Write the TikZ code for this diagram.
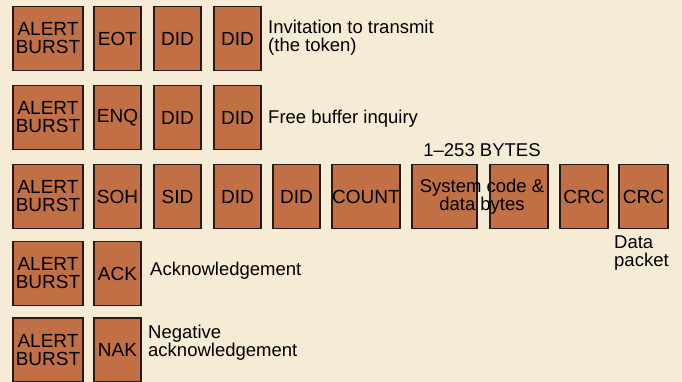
\documentclass[tikz,border=0pt]{standalone}
\usepackage{fontspec}
\setmainfont{Liberation Sans}
\definecolor{paper}{RGB}{246,236,214}
\definecolor{field}{RGB}{192,112,68}
\definecolor{rim}{RGB}{38,26,22}
\begin{document}
\begin{tikzpicture}[x=1pt,y=-1pt,
  fieldbox/.style={draw=rim,fill=field,line width=1.6pt,inner sep=0pt,outer sep=0pt,
    minimum height=64pt,font=\fontsize{19}{18}\selectfont,align=center},
  alert/.style={fieldbox,minimum width=70pt},
  narrow/.style={fieldbox,minimum width=47pt},
  note/.style={inner sep=0pt,anchor=west,align=left,font=\fontsize{18.5}{18}\selectfont}]
% paper
\fill[paper] (0,0) rectangle (682,382);
\useasboundingbox (0,0) rectangle (682,382);

% row 1: token
\node[alert]  (a1) at (48,38.5) {ALERT\\BURST};
\node[narrow] (eot) at (117.5,38.5) {EOT};
\node[narrow] (d1a) at (177.5,38.5) {DID};
\node[narrow] (d1b) at (237.5,38.5) {DID};
\node[note] (n1) at (268,38) {Invitation to transmit\\(the token)};

% row 2: free buffer inquiry
\node[alert]  (a2) at (48,117.5) {ALERT\\BURST};
\node[narrow] (enq) at (117.5,117.5) {ENQ};
\node[narrow] (d2a) at (177.5,117.5) {DID};
\node[narrow] (d2b) at (237.5,117.5) {DID};
\node[note] (n2) at (268,119) {Free buffer inquiry};

% row 3: data packet
\node[alert]  (a3) at (48,196.5) {ALERT\\BURST};
\node[narrow] (soh) at (117.5,196.5) {SOH};
\node[narrow] (sid) at (177.5,196.5) {SID};
\node[narrow] (d3a) at (237.5,196.5) {DID};
\node[narrow] (d3b) at (296.5,196.5) {DID};
\node[fieldbox,minimum width=68pt] (cnt) at (366,196.5) {COUNT};
\node[fieldbox,minimum width=65pt] (dat1) at (444.5,196.5) {};
\node[fieldbox,minimum width=58pt] (dat2) at (519,196.5) {};
\node[narrow,minimum width=48pt] (crc1) at (584,196.5) {CRC};
\node[narrow,minimum width=49pt] (crc2) at (643.5,196.5) {CRC};
\node[inner sep=0pt,align=center,font=\fontsize{18.5}{17}\selectfont] (dtxt) at (482,197) {System code \&\\data bytes};
\node[inner sep=0pt,font=\fontsize{18.5}{18}\selectfont] (bytes) at (482,150) {1–253 BYTES};
\node[note] (n3) at (614,253) {Data\\packet};

% row 4: acknowledgement
\node[alert]  (a4) at (48,273.5) {ALERT\\BURST};
\node[narrow] (ack) at (117.5,273.5) {ACK};
\node[note] (n4) at (150,271) {Acknowledgement};

% row 5: negative acknowledgement
\node[alert]  (a5) at (48,350) {ALERT\\BURST};
\node[narrow] (nak) at (117.5,350) {NAK};
\node[note] (n5) at (148,343) {Negative\\acknowledgement};
\end{tikzpicture}
\end{document}
